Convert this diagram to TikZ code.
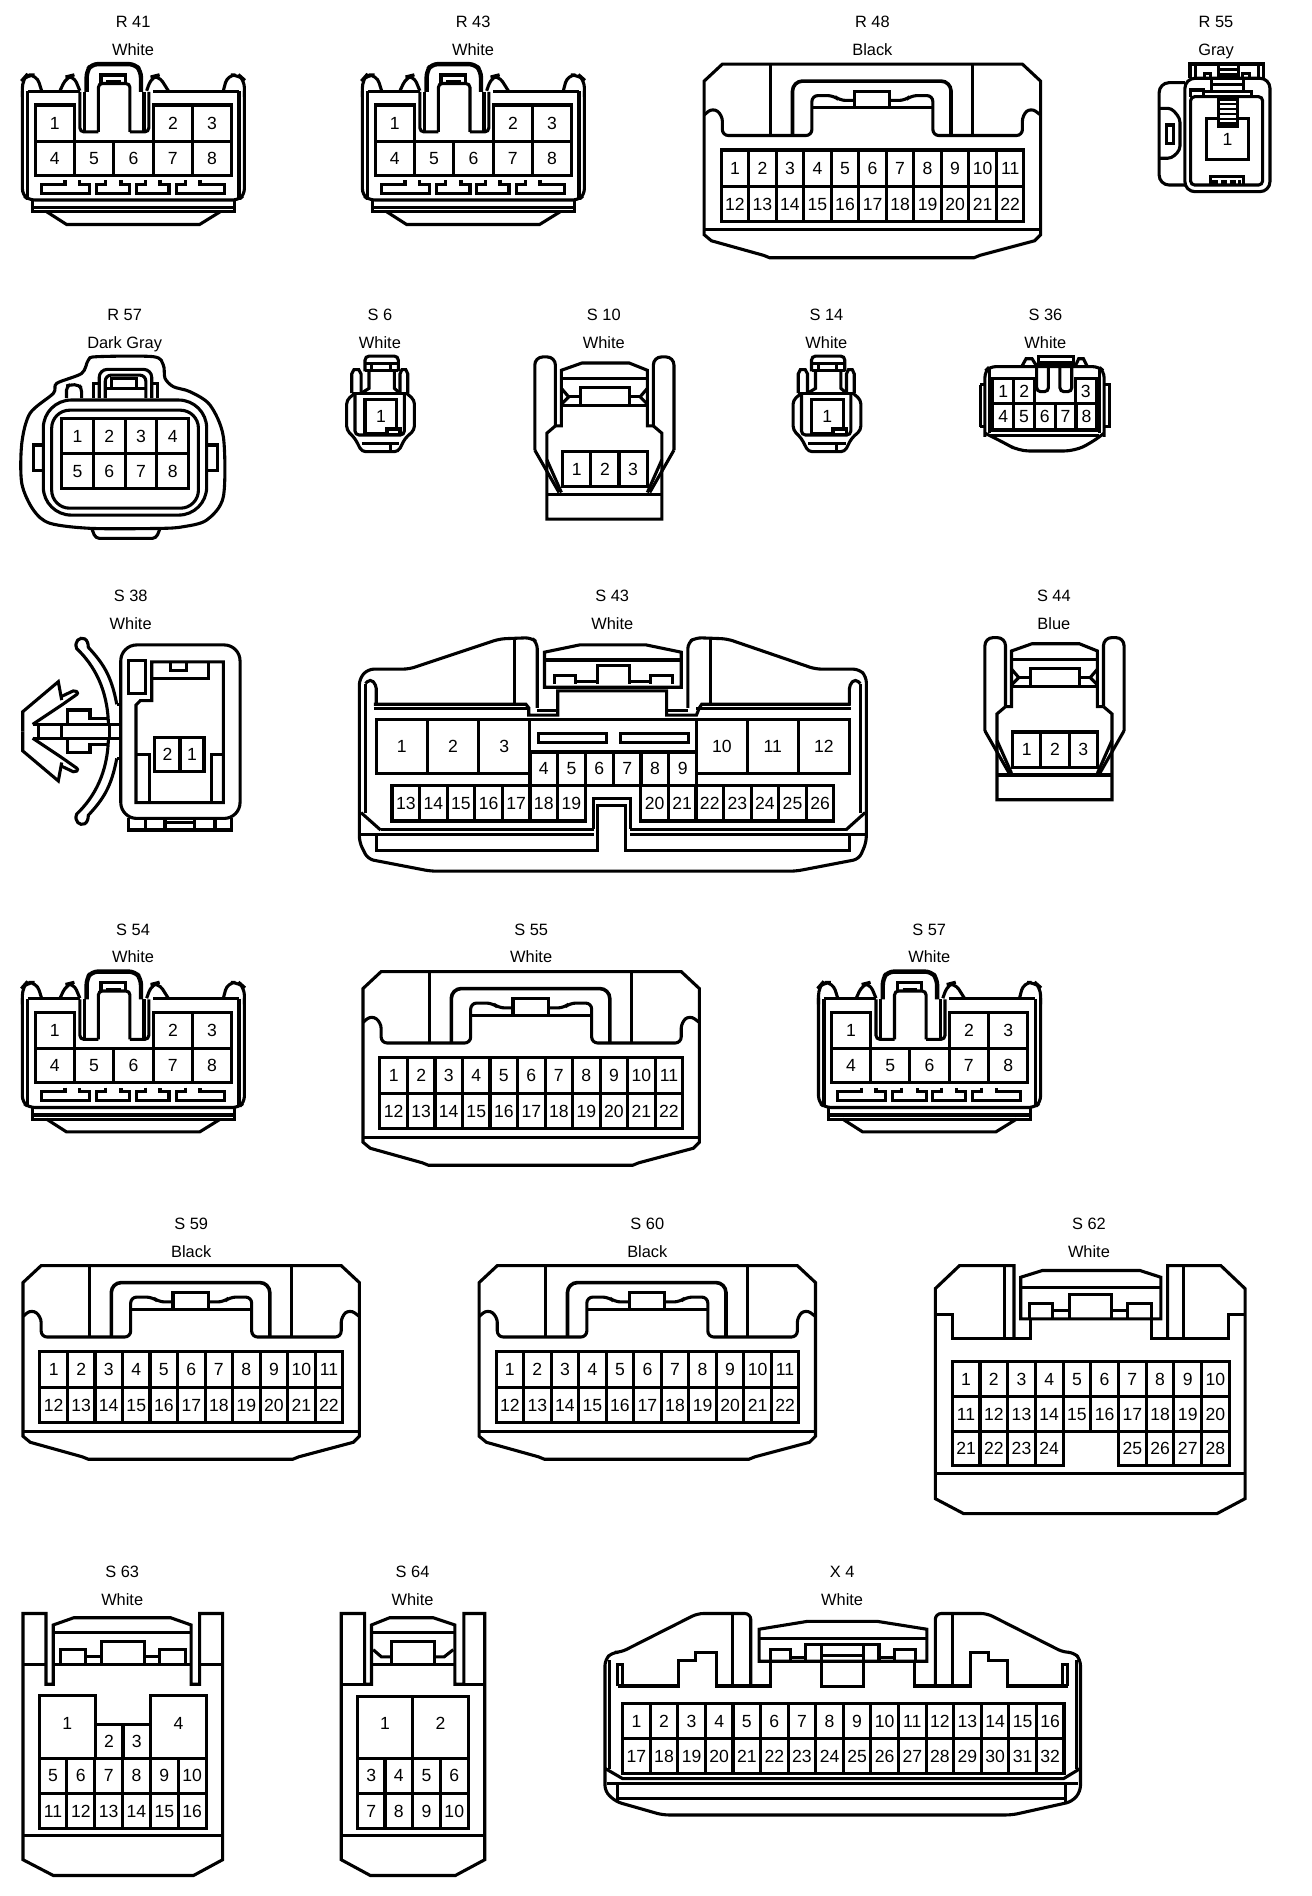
\documentclass[tikz,border=0pt]{standalone}
\usepackage{fontspec}
\setmainfont{Liberation Sans}
\tikzset{
  ln/.style={draw=black,line width=1.55pt,line join=miter,miter limit=2,line cap=butt},
  rc/.style={rounded corners=#1},
  pin/.style={inner sep=0pt,text height=6.3pt,text depth=0pt,font=\fontsize{8.8}{9}\selectfont},
  lab/.style={inner sep=0pt,text height=5.9pt,text depth=0pt,font=\fontsize{8.2}{9}\selectfont}
}
\newcommand\cellrow[7]{%
  \foreach \n [count=\i from 0] in {#6,...,#7} {%
    \pgfmathsetmacro\xa{#2+\i*#3}%
    \pgfmathsetmacro\xb{#2+(\i+1)*#3}%
    \draw[ln] (\xa,#4) rectangle (\xb,#5);
    \node[pin] (#1-\n) at ({(\xa+\xb)/2},{(#4+#5)/2}) {\n};
  }}
\newcommand\bigpin[7]{% name x1 x2 y1 y2 number
  \draw[ln] (#2,#4) rectangle (#3,#5);
  \node[pin] (#1-#6) at ({(#2+#3)/2},{(#4+#5)/2+#7}) {#6};}
\newcommand\connlabel[4]{%
  \node[lab] (t-#1) at (#2,#3) {#1};
  \node[lab] (c-#1) at (#2,#3+23) {#4};}
% ---------- R41 family
\newcommand\typeA[1]{%
  \draw[ln,rc=3] (18.5,75)--(18.5,161)--(24,165.3)--(197,165.3)--(202,161)--(202,75);
  \draw[ln,rc=3] (23,75.3)--(66,75.3);
  \draw[ln,rc=3] (126.7,75.3)--(197.5,75.3);
  \draw[ln] (23,75.3)--(23,165);
  \draw[ln] (197.5,75.3)--(197.5,165);
  \draw[ln,rc=4] (18.5,80)--(18.5,66)--(22,62)--(30.3,62)--(34.4,75);
  \draw[ln,rc=4] (184.6,75)--(188,62)--(197.5,62)--(202,66)--(202,80);
  \draw[ln,rc=4] (49.6,75)--(55,63.4)--(60.6,62)--(66,75);
  \draw[ln,rc=4] (121.2,75)--(125.4,63.4)--(130.9,62)--(139.1,75);
  \draw[ln,rc=3,line width=2.2pt] (71.6,76)--(71.6,59)--(75.8,53)--(111.6,53)--(116.5,59)--(116.5,76);
  \draw[ln,rc=2] (81.3,109)--(81.3,69)--(107.4,69)--(107.4,109);
  \draw[ln] (83.5,69)--(83.5,62)--(103.9,62)--(103.9,69);
  \draw[ln,line width=2pt] (88,68) -- (100,68);
  \draw[ln,rc=2] (66,76)--(66,109)--(81.3,109);
  \draw[ln] (70,76)--(70,108);
  \draw[ln,rc=2] (107.4,109)--(123,109)--(123,76);
  \draw[ln] (119,76)--(119,108);
  \cellrow{#1}{29}{32.5}{86.8}{116.6}{1}{1}
  \cellrow{#1a}{126.7}{32.4}{86.8}{116.6}{2}{3}
  \cellrow{#1b}{29}{32.5}{116.6}{144.7}{4}{8}
  \draw[ln] (53.7,148.8)--(53.7,152.4)--(34.4,152.4)--(34.4,159.8)--(73.6,159.8)--(73.6,152.4)--(66,152.4)--(66,148.8);
  \draw[ln] (87.3,148.8)--(87.3,152.4)--(79.9,152.4)--(79.9,159.8)--(107.4,159.8)--(107.4,152.4)--(100,152.4)--(100,148.8);
  \draw[ln] (120.4,148.8)--(120.4,152.4)--(113,152.4)--(113,159.8)--(139.7,159.8)--(139.7,152.4)--(132.2,152.4)--(132.2,148.8);
  \draw[ln] (153.4,148.8)--(153.4,152.4)--(146,152.4)--(146,159.8)--(185.4,159.8)--(185.4,152.4)--(165.3,152.4)--(165.3,148.8);
  \draw[ln] (26.7,165.3)--(26.7,175)--(193.7,175)--(193.7,165.3);
  \draw[ln] (26.7,171.5)--(193.7,171.5);
  \draw[ln] (38.6,175)--(55,185.5)--(165,185.5)--(182,175);
}
% ---------- R48 family
\newcommand\typeB[1]{%
  \draw[ln] (597,53)--(845,53)--(860,67)--(860,194)--(855,199)--(810,211)--(805,213)--(636,213)--(631,211)--(588,199)--(582,194)--(582,67)--cycle;
  \draw[ln] (582,190)--(860,190);
  \draw[ln,rc=3] (582,95)--(589,89)--(597,95)--(597,112)--(671,112)--(671,79)--(689,79)--(694,83)--(706,83);
  \draw[ln,rc=3] (860,95)--(852,89)--(845,95)--(845,112)--(771,112)--(771,79)--(753,79)--(748,83)--(735,83);
  \draw[ln] (706,89)--(706,75.5)--(735,75.5)--(735,89);
  \draw[ln] (671,89)--(771,89);
  \draw[ln,rc=4] (637,112)--(637,53);
  \draw[ln,rc=4] (804,112)--(804,53);
  \draw[ln,rc=5,line width=1.8pt] (655,112)--(655,67)--(786,67)--(786,112);
  \cellrow{#1}{596}{22.75}{124}{154}{1}{11}
  \cellrow{#1b}{596}{22.75}{154}{183}{12}{22}
}
% ---------- S6 family
\newcommand\typeC[1]{%
  \draw[ln,rc=2] (301.7,307)--(301.7,294.3)--(329.2,294.3)--(329.2,307);
  \draw[ln] (301.7,300.3)--(329.2,300.3);
  \draw[ln] (307.2,300.3)--(307.2,306.4);\draw[ln] (322.4,300.3)--(322.4,306.4);
  \draw[ln] (301.7,306.4)--(329.2,306.4);
  \draw[ln] (305,306.4)--(305,321)--(298.4,325);
  \draw[ln] (326,306.4)--(326,321)--(330.6,325);
  \draw[ln] (290.7,325)--(290.7,309)--(292.5,305.5)--(296.5,305.5)--(298.4,309)--(298.4,325);
  \draw[ln] (330.6,325)--(330.6,309)--(332.2,305.5)--(335.4,305.5)--(337,309)--(337,325);
  \draw[ln,rc=2] (293.4,325)--(286.5,330.6)--(286.5,355.4)--(293.4,362.3)--(299,373.3)--(329.2,373.3)--(334.7,362.3)--(342.5,355.4)--(342.5,330.6)--(336,325);
  \draw[ln,rc=2] (290.7,325)--(337,325);
  \draw[ln,rc=2] (293.4,325)--(293.4,359.5)--(334.2,359.5)--(334.2,325);
  \bigpin{#1}{301.7}{327.9}{330}{358.2}{1}{0}
  \draw[ln,fill=white,line width=1.8pt] (319.6,354.5) rectangle (330.6,359);
  \draw[ln] (299,366.4)--(330,366.4);
  \draw[ln] (322.4,366.4)--(322.4,373.3);
}
% ---------- S10 family
\newcommand\typeD[1]{%
  \draw[ln,rc=4] (459,352)--(459,295)--(442,295)--(442,372);
  \draw[ln,rc=4] (540,352)--(540,295)--(557,295)--(557,372);
  \draw[ln] (442,372)--(462,407);
  \draw[ln] (557,372)--(537,407);
  \draw[ln] (452,380)--(464,407);
  \draw[ln] (547,380)--(535,407);
  \draw[ln] (459,352)--(452,358)--(452,429)--(547,429)--(547,358)--(540,352);
  \draw[ln] (452,408.5)--(547,408.5);
  \draw[ln] (459,352)--(464,352)--(464,306)--(481,300)--(520,300)--(535,306)--(535,352)--(540,352);
  \draw[ln] (464,313)--(535,313);
  \draw[ln] (464,335)--(535,335);
  \draw[ln] (480,335)--(480,320.5)--(520,320.5)--(520,335);
  \draw[ln] (464,321)--(470,328)--(464,334);
  \draw[ln] (535,321)--(529,328)--(535,334);
  \draw[ln] (470,328)--(480,328);\draw[ln] (520,328)--(529,328);
  \cellrow{#1}{465}{23.3}{373}{402}{1}{3}
}
\begin{document}
\begin{tikzpicture}[x=0.6052pt,y=-0.6052pt]
\useasboundingbox (0,0) rectangle (1084,1567);
\fill[white] (0,0) rectangle (1084,1567);
% titles
\connlabel{R 41}{110}{18}{White}
\connlabel{R 43}{391}{18}{White}
\connlabel{R 48}{721}{18}{Black}
\connlabel{R 55}{1005}{18}{Gray}
\connlabel{R 57}{103}{260}{Dark Gray}
\connlabel{S 6}{314}{260}{White}
\connlabel{S 10}{499}{260}{White}
\connlabel{S 14}{683}{260}{White}
\connlabel{S 36}{864}{260}{White}
\connlabel{S 38}{108}{492}{White}
\connlabel{S 43}{506}{492}{White}
\connlabel{S 44}{871}{492}{Blue}
\connlabel{S 54}{110}{768}{White}
\connlabel{S 55}{439}{768}{White}
\connlabel{S 57}{768}{768}{White}
\connlabel{S 59}{158}{1011}{Black}
\connlabel{S 60}{535}{1011}{Black}
\connlabel{S 62}{900}{1011}{White}
\connlabel{S 63}{101}{1299}{White}
\connlabel{S 64}{341}{1299}{White}
\connlabel{X 4}{696}{1299}{White}
% repeated families
\begin{scope}\typeA{R41}\end{scope}
\begin{scope}[shift={(281,0)}]\typeA{R43}\end{scope}
\begin{scope}[shift={(0,750)}]\typeA{S54}\end{scope}
\begin{scope}[shift={(658,750)}]\typeA{S57}\end{scope}
\begin{scope}\typeB{R48}\end{scope}
\begin{scope}[shift={(-282,750)}]\typeB{S55}\end{scope}
\begin{scope}[shift={(-563,993)}]\typeB{S59}\end{scope}
\begin{scope}[shift={(-186,993)}]\typeB{S60}\end{scope}
\begin{scope}\typeC{S6}\end{scope}
\begin{scope}[shift={(369,0)}]\typeC{S14}\end{scope}
\begin{scope}\typeD{S10}\end{scope}
\begin{scope}[shift={(372,232)}]\typeD{S44}\end{scope}
% R55
\draw[ln] (983.5,64.7)--(983.5,52.9)--(1044,52.9)--(1044,64.7);
\draw[ln] (988.4,53)--(988.4,64.7);\draw[ln] (1040,53)--(1040,64.7);
\draw[ln] (995.3,64.7)--(995.3,60.6)--(1000.5,60.6)--(1000.5,64.7);
\draw[ln] (1027,64.7)--(1027,60.6)--(1033,60.6)--(1033,64.7);
\draw[ln] (1006.9,53)--(1006.9,64.7);\draw[ln] (1023.4,53)--(1023.4,64.7);
\draw[ln] (1006.9,57.8)--(1023.4,57.8);\draw[ln] (1006.9,62)--(1023.4,62);
\draw[ln,rc=5] (979.3,64.7) rectangle (1049.6,158.4);
\draw[ln,rc=5] (979.3,68.3)--(958,68.3)--(958,152.9)--(979.3,152.9);
\draw[ln,rc=2] (958,89.5)--(968.3,89.5)--(975.2,97.8)--(975.2,124)--(968.3,130.8)--(958,130.8);
\draw[ln] (964,103.3) rectangle (969.7,118.4);
\draw[ln,rc=2] (984,79.9) rectangle (1043.5,152.9);
\draw[ln] (984,79.9)--(984,74.4)--(995,74.4)--(995,79.9);
\draw[ln] (1001.4,64.7)--(1001.4,75.7)--(1027.5,75.7)--(1027.5,64.7);
\draw[ln] (1001.4,70.2)--(1027.5,70.2);
\draw[ln] (995,75.7)--(1001.4,75.7);
\draw[ln] (1027.5,75.7)--(1034.4,75.7)--(1034.4,79.9);
\bigpin{R55}{997.2}{1031.7}{97.8}{131.7}{1}{0}
\draw[ln,fill=white] (1006.9,82) rectangle (1022.6,104.1);
\foreach \yy in {86,90,94,98,102}{\draw[ln,line width=1pt] (1006.9,\yy)--(1022.6,\yy);}
\draw[ln] (1000.5,152.9)--(1000.5,146)--(1027.5,146)--(1027.5,152.9);
\draw[ln,line width=2pt,dash pattern=on 3pt off 1.3pt] (1002,150)--(1026,150);
% R57
\draw[ln] plot[smooth cycle,tension=0.5] coordinates {(46.9,316.8)(67.5,308.6)(73,297.6)(80,294.8)(126.8,294.8)(135,301.7)(136.4,312.7)(143.3,319.6)(157,323.7)(173.6,334.8)(184.6,361)(184.6,410.5)(170.8,429.8)(151.5,435.3)(132.3,436.7)(75.8,436.7)(41.4,432.5)(27.6,421.5)(18,399.5)(18,366.4)(24.8,341.6)(44.1,325.1)};
\draw[ln,rc=2] (75.8,436.7)--(79,445)--(129,445)--(132.3,436.7);
\draw[ln,rc=14] (35.8,330.6) rectangle (170.8,425.7);
\draw[ln,rc=9] (42.7,339) rectangle (164,420);
\cellrow{R57}{51}{26.2}{345.8}{374.7}{1}{4}
\cellrow{R57b}{51}{26.2}{374.7}{403.6}{5}{8}
\draw[ln] (35.8,367.8)--(27.6,367.8)--(27.6,388.5)--(35.8,388.5);
\draw[ln] (172,367.8)--(179.6,367.8)--(179.6,388.5)--(172,388.5);
\draw[ln,rc=4] (82,329)--(82,305.3)--(125.4,305.3)--(125.4,329);
\draw[ln,rc=3] (87,329)--(87,310)--(120.5,310)--(120.5,329);
\draw[ln] (92.3,312.7) rectangle (113,321);
\draw[ln] (87,321)--(120.5,321);
\draw[ln] (77,329)--(77,316.8)--(82,316.8);
\draw[ln] (125.4,316.8)--(130,316.8)--(130,329);
\draw[ln,rc=2] (55,329)--(55,319)--(58,318)--(65,318)--(67.5,321)--(67.5,329);
% S36
\draw[ln,rc=3] (814,361)--(814,307)--(818,303)--(908,303)--(912.5,307)--(912.5,361);
\draw[ln,rc=5] (814,358)--(830,366)--(842,372.7)--(888,372.7)--(902,366)--(912.5,358);
\draw[ln] (818,360)--(908,360);
\draw[ln] (810,318)--(814,318);\draw[ln] (810,352.6)--(814,352.6);\draw[ln] (810,318)--(810,352.6);
\draw[ln] (912.5,318)--(917,318)--(917,352.6)--(912.5,352.6);
\draw[ln] (818,305)--(818,358);\draw[ln] (908.5,305)--(908.5,358);
\draw[ln] (844.4,303)--(848,296.5)--(853,296.5)--(857,303);
\draw[ln] (888.5,303)--(891.5,296.5)--(895.4,296.5)--(898.7,303);
\draw[ln,fill=white] (858,295) rectangle (887,300);
\draw[ln,rc=2] (856.8,300)--(856.8,323.7)--(866.5,323.7)--(866.5,300);
\draw[ln,rc=2] (876,300)--(876,323.7)--(885.8,323.7)--(885.8,300);
\cellrow{S36}{820.5}{17.4}{312.7}{333.3}{1}{2}
\cellrow{S36a}{888.5}{17.9}{312.7}{333.3}{3}{3}
\cellrow{S36b}{820.5}{17.2}{333.3}{355.4}{4}{8}
% S38
\draw[ln,rc=8] (99.8,533) rectangle (198.4,676.4);
\draw[ln] (106,676.4)--(106,686)--(191.5,686)--(191.5,676.4);
\foreach \xx in {119.9,136.4,161,177.7}{\draw[ln] (\xx,676.4)--(\xx,686);}
\draw[ln] (136.4,680)--(161,680);
\draw[ln] (106,546) rectangle (119.9,573);
\draw[ln] (125.4,560)--(125.4,547)--(184.6,547)--(184.6,663.4)--(112.4,663.4)--(112.4,582.7)--(116,579)--(125.4,579)--cycle;
\draw[ln] (125.4,560.6)--(172,560.6)--(172,547);
\draw[ln] (141,547)--(141,554)--(154,554)--(154,547);
\draw[ln] (112.4,623.2)--(123.5,623.2)--(123.5,663.4);
\draw[ln] (184.6,623.2)--(175,623.2)--(175,663.4);
\bigpin{S38}{128}{148.8}{609.4}{637.8}{2}{0}
\bigpin{S38b}{148.8}{168.6}{609.4}{637.8}{1}{0}
\foreach \tr in {0,1}{
\begin{scope}[shift={(0,\tr*1208.8)},yscale={1-2*\tr}]
 \draw[ln] (96.5,582) .. controls (92,558) and (85,548) .. (73,535) .. controls (73,532) and (72,529) .. (70,528) .. controls (66,526) and (61,530) .. (63.4,536) .. controls (78,550) and (89,570) .. (89.6,598.7);
 \draw[ln] (96.5,582)--(99.8,582);
 \draw[ln] (55.7,598.7)--(55.7,586.8)--(74.4,586.8)--(74.4,593.7)--(89.6,593.7);
 \draw[ln] (27,598.7)--(99.8,598.7);
 \draw[ln] (18.8,604.4)--(18.8,588.2)--(48.2,563.4)--(51,578.6);
 \draw[ln,rc=1] (51,575.5)--(62,570.3)--(64.8,573)--(51,582.7)--(27,598.7);
\end{scope}}
\draw[ln] (31.7,598.7)--(31.7,610);\draw[ln] (51,598.7)--(51,610);\draw[ln] (90.4,598.7)--(90.4,610);
% S43
\draw[ln,rc=3] (444,585)--(444,531)--(439,527)--(413,528)--(338,553)--(304,553)--(297,561)--(297,696)--(304,710)--(356,720)--(657.7,720)--(710,710)--(716,696)--(716,559)--(710,553)--(674,553)--(601,528)--(575,527)--(568.5,531)--(568.5,585);
\draw[ln] (425,528)--(425,582);\draw[ln] (587.5,528)--(587.5,582);
\draw[ln] (309,582)--(434.6,582)--(437,585)--(437,591)--(461,591)--(461,571)--(551,571)--(551,591)--(575.6,591)--(578,585)--(580,582)--(703,582);
\draw[ln] (309,585.5)--(437,585.5);\draw[ln] (575.6,585.5)--(703,585.5);
\draw[ln] (444,587.5)--(461,587.5);\draw[ln] (551,587.5)--(568.5,587.5);
\draw[ln,rc=2] (302,565)--(306,561)--(311,566)--(311,583);
\draw[ln,rc=2] (711,565)--(707,561)--(702,566)--(702,583);
\draw[ln] (302,565)--(302,672);\draw[ln] (711,565)--(711,672);
\draw[ln] (298.4,671.6)--(314.6,686);\draw[ln] (715,671.6)--(699,686);
\draw[ln] (314.6,685.4)--(490.6,685.4);\draw[ln] (521,685.4)--(699,685.4);
\draw[ln] (297,689.5)--(490.6,689.5);\draw[ln] (521,689.5)--(716,689.5);
\draw[ln] (311,689.5)--(311,703)--(494,703)--(494,665.5)--(517,665.5)--(517,703)--(702,703)--(702,689.5);
\draw[ln] (490.6,685.4)--(490.6,660)--(521,660)--(521,685.4);
\draw[ln] (450,568)--(450,539)--(479,533)--(534,533)--(563,539)--(563,568)--cycle;
\draw[ln] (450,545.5)--(563,545.5);
\draw[ln] (494,565.5)--(494,550)--(520,550)--(520,565.5);
\draw[ln] (458,565.5)--(458,558)--(476,558)--(476,565.5);
\draw[ln] (537.6,565.5)--(537.6,558)--(555.7,558)--(555.7,565.5);
\draw[ln] (476,563)--(494,563);\draw[ln] (520,563)--(537.6,563);
\cellrow{S43}{311}{42.3}{594.5}{639.4}{1}{3}
\cellrow{S43b}{575.6}{42.1}{594.5}{639.4}{10}{12}
\draw[ln] (438,594.5)--(575.6,594.5)--(575.6,621.5)--(438,621.5);
\cellrow{S43c}{438}{22.95}{621.5}{649}{4}{9}
\cellrow{S43d}{324}{22.8}{649}{678.5}{13}{19}
\cellrow{S43e}{529.6}{22.8}{649}{678.5}{20}{26}
\draw[ln] (445,606) rectangle (501,614);
\draw[ln] (513,606) rectangle (569,614);
% S62
\draw[ln] (838,1106)--(838,1046)--(793,1046)--(773,1065)--(773,1238.6)--(796.5,1251)--(1005.7,1251)--(1029,1238.6)--(1029,1065)--(1009,1046)--(965,1046)--(965,1106);
\draw[ln] (773,1086.4)--(787,1086.4)--(787,1106)--(851.7,1106)--(851.7,1090);
\draw[ln] (1029,1086.4)--(1015,1086.4)--(1015,1106)--(951.7,1106)--(951.7,1090);
\draw[ln] (830,1046)--(830,1106);\draw[ln] (978,1046)--(978,1106);
\draw[ln] (843.6,1090)--(843.6,1055.6)--(861.6,1050)--(942,1050)--(959.4,1055.6)--(959.4,1090)--cycle;
\draw[ln] (843.6,1064)--(959.4,1064);
\draw[ln] (884,1090)--(884,1070)--(918.4,1070)--(918.4,1090);
\draw[ln] (851,1090)--(851,1077)--(870,1077)--(870,1090);
\draw[ln] (932,1090)--(932,1077)--(951.7,1077)--(951.7,1090);
\draw[ln] (870,1083)--(884,1083);\draw[ln] (918.4,1083)--(932,1083);
\cellrow{S62}{787}{22.9}{1125}{1154}{1}{10}
\cellrow{S62b}{787}{22.9}{1154}{1183}{11}{20}
\cellrow{S62c}{787}{22.9}{1183}{1211}{21}{24}
\cellrow{S62d}{924.4}{22.9}{1183}{1211}{25}{28}
\draw[ln] (773,1218)--(1029,1218);
% S63
\draw[ln] (38,1392)--(38,1333.5)--(19,1333.5)--(19,1537)--(44,1550)--(160,1550)--(184,1537)--(184,1333.5)--(165,1333.5)--(165,1392)--(158,1392)--(158,1343)--(141,1337)--(61,1337)--(44,1343)--(44,1392)--cycle;
\draw[ln] (19,1376)--(38,1376);\draw[ln] (165,1376)--(184,1376);\draw[ln] (44,1376)--(158,1376);
\draw[ln] (44,1349)--(158,1349);
\draw[ln] (84,1376)--(84,1356.6)--(119.5,1356.6)--(119.5,1376);
\draw[ln] (50,1376)--(50,1363)--(71,1363)--(71,1376);
\draw[ln] (131.5,1376)--(131.5,1363)--(153,1363)--(153,1376);
\draw[ln] (71,1369)--(84,1369);\draw[ln] (119.5,1369)--(131.5,1369);
\bigpin{S63}{32.3}{78.7}{1401.6}{1453}{1}{-3}
\bigpin{S63b}{124.6}{170.4}{1401.6}{1453}{4}{-3}
\cellrow{S63c}{78.7}{22.95}{1425}{1453}{2}{3}
\cellrow{S63d}{32.3}{23}{1453}{1482}{5}{10}
\cellrow{S63e}{32.3}{23}{1482}{1511}{11}{16}
\draw[ln] (19,1517)--(184,1517);
% S64
\draw[ln] (301.4,1392)--(301.4,1333.5)--(282,1333.5)--(282,1537)--(306,1550)--(376.4,1550)--(400.6,1537)--(400.6,1333.5)--(383.4,1333.5)--(383.4,1392)--(376,1392)--(376,1343)--(358,1337)--(322,1337)--(307,1343)--(307,1392)--cycle;
\draw[ln] (282,1392)--(301.4,1392);\draw[ln] (383.4,1392)--(400.6,1392);
\draw[ln] (307,1349)--(376,1349);\draw[ln] (307,1376)--(376,1376);
\draw[ln] (323.7,1376)--(323.7,1356.6)--(359,1356.6)--(359,1376);
\draw[ln] (308.4,1363.4)--(315.3,1369.4)--(323.7,1369.4);
\draw[ln] (374.6,1363.4)--(367,1369.4)--(359,1369.4);
\bigpin{S64}{295.3}{341}{1402}{1453}{1}{-3}
\bigpin{S64b}{341}{387}{1402}{1453}{2}{-3}
\cellrow{S64c}{295.3}{22.9}{1453}{1482}{3}{6}
\cellrow{S64d}{295.3}{22.9}{1482}{1511}{7}{10}
\draw[ln] (282,1517)--(400.6,1517);
% X4
\draw[ln,rc=3] (620.5,1393.4)--(620.5,1333.5)--(576.5,1333.5)--(513,1365.6)--(506,1365.6)--(500,1371.6)--(500,1480.6)--(509,1489)--(547.6,1500)--(836.5,1500)--(886,1489)--(893,1480.6)--(893,1371.6)--(887.5,1365.6)--(879,1365.6)--(815.7,1333.5)--(773,1333.5)--(773,1393.4);
\draw[ln] (503.6,1372)--(503.6,1462);\draw[ln] (889.6,1372)--(889.6,1462);
\draw[ln] (510.5,1393.4)--(510.5,1376)--(514.6,1376)--(514.6,1393.4);
\draw[ln] (882.3,1393.4)--(882.3,1376)--(878,1376)--(878,1393.4);
\draw[ln] (510.5,1393.4)--(560.5,1393.4)--(560.5,1372)--(575,1372)--(575,1366)--(592.5,1366)--(592.5,1393.4)--(637,1393.4)--(637,1373);
\draw[ln] (882.3,1393.4)--(833,1393.4)--(833,1372)--(817,1372)--(817,1366)--(802,1366)--(802,1393.4)--(756,1393.4)--(756,1373);
\draw[ln] (605.4,1333.5)--(605.4,1393.4);\draw[ln] (787,1333.5)--(787,1393.4);
\draw[ln] (627.4,1373)--(627.4,1346.5)--(667.3,1340)--(725,1340)--(766,1346.5)--(766,1373)--cycle;
\draw[ln] (627.4,1354)--(766,1354);
\draw[ln] (666,1372)--(666,1359)--(726.5,1359)--(726.5,1372);
\draw[ln] (679,1360)--(679,1394)--(714,1394)--(714,1360);
\draw[ln] (679,1368)--(714,1368);
\draw[ln] (636.5,1373)--(636.5,1363)--(653.5,1363)--(653.5,1373);
\draw[ln] (739.4,1373)--(739.4,1363)--(756.7,1363)--(756.7,1373);
\draw[ln] (653.5,1370)--(666,1370);\draw[ln] (726.5,1370)--(739.4,1370);
\cellrow{X4}{514.6}{22.8}{1408}{1437}{1}{16}
\cellrow{X4b}{514.6}{22.8}{1437}{1465.6}{17}{32}
\draw[ln] (500,1461.5)--(514.6,1470)--(879,1470)--(893,1461.5);
\draw[ln] (502,1474)--(891,1474);
\draw[ln] (510.5,1474)--(510.5,1489);\draw[ln] (880.5,1474)--(880.5,1489);
\draw[ln] (510.5,1486.6)--(880.5,1486.6);
\end{tikzpicture}
\end{document}
